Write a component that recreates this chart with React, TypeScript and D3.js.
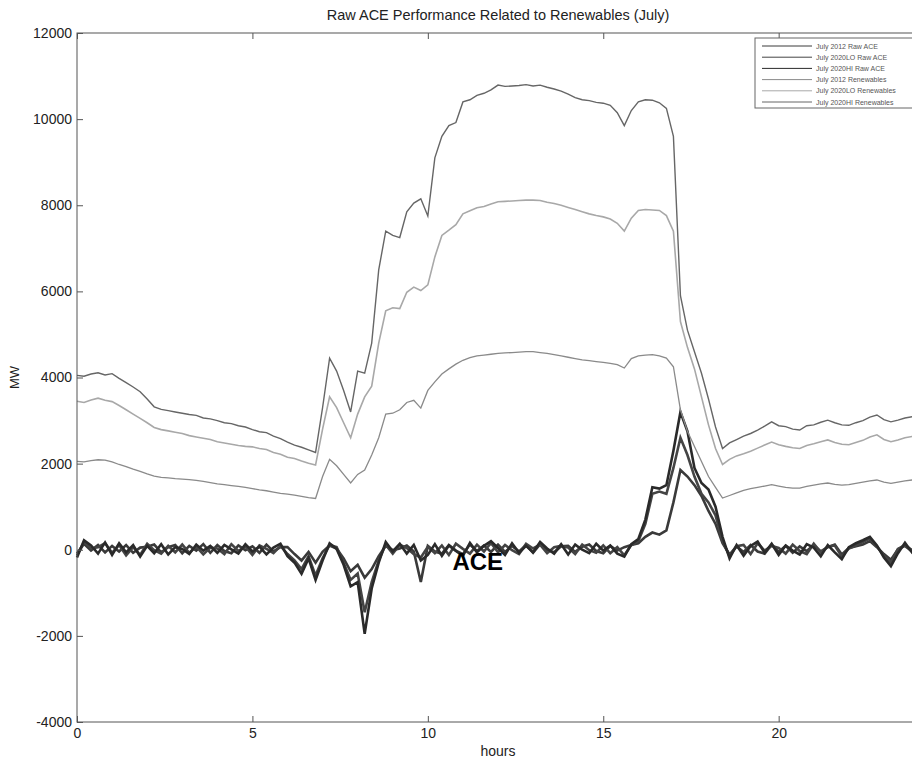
import { useEffect, useRef } from "react";
import * as d3 from "d3";

// x grid: one reading every 0.2 h
const hours: number[] = d3.range(0, 121).map((i) => i / 5);

const xTicks = [0, 5, 10, 15, 20];
const yTicks = [-4000, -2000, 0, 2000, 4000, 6000, 8000, 10000, 12000];

// renewables (MW)
const ren2012 = [
  2050, 2040, 2070, 2090, 2080, 2040, 1980, 1930, 1870, 1820,
  1760, 1710, 1680, 1670, 1650, 1640, 1630, 1610, 1590, 1560,
  1530, 1510, 1490, 1470, 1450, 1420, 1390, 1370, 1340, 1310,
  1290, 1270, 1240, 1210, 1190, 1700, 2100, 1950, 1750, 1550,
  1750, 1850, 2200, 2600, 3150, 3170, 3250, 3420, 3470, 3290,
  3700, 3900, 4080, 4200, 4310, 4400, 4460, 4500, 4520, 4540,
  4560, 4570, 4580, 4590, 4600, 4600, 4580, 4560, 4530, 4500,
  4470, 4440, 4410, 4390, 4370, 4350, 4330, 4300, 4220, 4440,
  4500, 4520, 4530, 4500, 4450, 4250, 3250, 2750, 2400, 2050,
  1700, 1450, 1200, 1260, 1320, 1380, 1420, 1450, 1480, 1510,
  1480, 1450, 1430, 1430, 1470, 1500, 1530, 1550, 1520, 1500,
  1510, 1540, 1570, 1600, 1620, 1570, 1540, 1570, 1600, 1620,
  1610,
];

const renLo = [
  3450, 3420, 3480, 3520, 3470, 3440, 3350, 3250, 3150, 3050,
  2950, 2840, 2790, 2760, 2730, 2700, 2650, 2620, 2590, 2560,
  2510, 2480, 2450, 2420, 2400, 2390, 2350, 2330, 2260, 2220,
  2150, 2120, 2060, 2010, 1970, 2800, 3550, 3300, 2950, 2600,
  3150, 3550, 3800, 4800, 5550, 5620, 5600, 5980, 6100, 6020,
  6150, 6800, 7300, 7420, 7550, 7800, 7870, 7940, 7970, 8030,
  8080, 8090, 8100, 8110, 8120, 8120, 8110, 8070, 8040, 8000,
  7950, 7900, 7850, 7800, 7760, 7730, 7680, 7580, 7400, 7700,
  7880, 7900, 7890, 7880, 7760, 7400, 5300, 4700, 4200, 3550,
  2900, 2350, 1980, 2100, 2180, 2230, 2290, 2360, 2430, 2500,
  2440, 2400, 2370, 2350, 2420, 2460, 2510, 2550, 2490, 2450,
  2440, 2490, 2540, 2620, 2670, 2560, 2510, 2550, 2600, 2630,
  2610,
];

const renHi = [
  4050, 4030, 4080, 4110, 4060, 4090, 3980, 3880, 3780, 3670,
  3500, 3320, 3260, 3230, 3200, 3170, 3140, 3120, 3060, 3040,
  3000, 2950, 2930, 2880, 2850, 2790, 2740, 2720, 2640, 2580,
  2500, 2430, 2380, 2320, 2260, 3300, 4450, 4150, 3700, 3200,
  4150, 4100, 4800, 6500, 7400, 7300, 7250, 7850, 8050, 8150,
  7750, 9100, 9600, 9850, 9920, 10400, 10450, 10550, 10600, 10680,
  10790, 10760, 10770, 10780, 10800, 10770, 10790, 10740, 10700, 10650,
  10580, 10500, 10450, 10430, 10390, 10370, 10320, 10150, 9850, 10200,
  10400, 10450, 10440, 10380, 10250, 9600, 5900, 5100, 4600, 4100,
  3500, 2850, 2350, 2480, 2560, 2640, 2700, 2780, 2870, 2970,
  2880, 2860, 2800, 2780, 2880, 2900, 2960, 3010, 2950, 2900,
  2890, 2950, 3000, 3080, 3130, 3020, 2970, 3010, 3060, 3090,
  3060,
];

// raw ACE (MW)
const ace2012 = [
  -90, 140, -20, 110, -60, 90, -40, 110, -70, 50,
  70, 120, -60, 60, 110, -80, 90, -20, 130, -70,
  110, -30, -80, 100, -10, 80, -70, 120, -40, 60,
  60, -100, -250, -50, -300, -50, 100, 30, -200, -500,
  -350, -650, -450, -150, 90, -10, 30, 100, -40, -750,
  90, -40, -90, 110, -20, -100, 120, -30, 100, -50,
  120, -50, 90, -40, 110, -70, 130, -10, -60, 80,
  90, -50, 70, 120, -30, -80, 90, -20, 60, 110,
  150, 300, 400, 350, 450, 1100, 1850, 1700, 1500, 1250,
  900, 600, 150, -110, 80, -50, 110, -40, -90, 120,
  -50, 90, -70, 80, -30, 110, -40, 60, 120, -110,
  40, 80, 120, 200, 60, -100, -230, 10, 90, -40,
  60,
];

const aceLo = [
  -130, 180, 30, 60, 150, -70, 110, -130, 60, -120,
  140, -10, -90, 90, -60, 120, -70, 70, -110, 50,
  30, -100, 130, -30, 80, -120, 100, 20, -80, 90,
  -100, -250, -450, -150, -600, -200, 110, 60, -300, -700,
  -550, -1450, -750, -250, 120, -90, 120, 40, -100, -180,
  70, -80, 100, -120, 140, 20, -90, 120, -40, 160,
  -60, 110, -10, -100, 140, 30, 120, -80, 60, 90,
  50, -100, 120, -10, -70, 100, -80, 60, -130, 110,
  200, 600, 1300, 1350, 1300, 1900, 2600, 2200, 1700, 1300,
  1100, 800, 200, -150, 80, 110, -100, 150, -20, 90,
  40, -90, 120, -30, -100, 140, -60, 70, 100, -160,
  30, 100, 180, 260, 80, -140, -300, 20, 110, -10,
  50,
];

const aceHi = [
  -180, 220, 100, -90, 170, -120, 150, -60, 110, -160,
  90, -80, 130, -110, 60, 20, -100, 120, -20, 90,
  -70, 110, 10, -90, 130, -40, 70, -110, 50, 140,
  -150, -300, -560, -200, -700, -250, 150, 20, -350, -850,
  -750, -1950, -900, -300, 180, -40, 140, -90, 110, -250,
  -120, 130, -140, 100, -30, -140, 160, -60, 90, 200,
  40, -120, 150, -70, 90, -60, 180, 30, -90, 130,
  -110, 120, 0, -80, 140, -20, 100, -90, -160, 130,
  250, 700, 1450, 1420, 1500, 2300, 3200, 2750, 1900, 1550,
  1400, 1000, 300, -200, 110, -140, 90, 190, -70, 140,
  -120, 100, -20, -110, 130, 50, -150, 110, -60, -220,
  60, 150, 220, 300, 100, -180, -380, -80, 160, -60,
  80,
];

const seriesNames = [
  "July 2012 Raw ACE",
  "July 2020LO Raw ACE",
  "July 2020HI Raw ACE",
  "July 2012 Renewables",
  "July 2020LO Renewables",
  "July 2020HI Renewables",
];

const FONT = "'Liberation Sans', Arial, sans-serif";

export default function App() {
  const svgRef = useRef<SVGSVGElement>(null);

  useEffect(() => {
    const svg = d3.select(svgRef.current);
    svg.selectAll("*").remove();

    const width = 912;
    const height = 761;
    const margin = { top: 33, left: 77, bottom: 722, right: 919 };

    const x = d3.scaleLinear().domain([0, 24]).range([margin.left, margin.right]);
    const y = d3.scaleLinear().domain([-4000, 12000]).range([margin.bottom, margin.top]);

    svg.append("rect").attr("width", width).attr("height", height).attr("fill", "#fff");

    const series = [
      { values: ace2012, color: "#3a3a3a", w: 2.6 },
      { values: aceLo, color: "#444", w: 2.6 },
      { values: aceHi, color: "#2a2a2a", w: 2.6 },
      { values: ren2012, color: "#8a8a8a", w: 1.3 },
      { values: renLo, color: "#a8a8a8", w: 1.6 },
      { values: renHi, color: "#666", w: 1.4 },
    ];

    const line = d3
      .line<number>()
      .x((_, i) => x(hours[i]))
      .y((d) => y(d));

    series.forEach((s) => {
      svg
        .append("path")
        .datum(s.values)
        .attr("fill", "none")
        .attr("stroke", s.color)
        .attr("stroke-width", s.w)
        .attr("stroke-linejoin", "miter")
        .attr("d", line);
    });

    // axes box
    const axisColor = "#555";
    svg
      .append("rect")
      .attr("x", margin.left)
      .attr("y", margin.top)
      .attr("width", margin.right - margin.left)
      .attr("height", margin.bottom - margin.top)
      .attr("fill", "none")
      .attr("stroke", axisColor)
      .attr("stroke-width", 1);

    const fmt = (d: d3.NumberValue) => String(d);

    const bottom = svg
      .append("g")
      .attr("transform", `translate(0,${margin.bottom})`)
      .call(
        d3.axisBottom(x).tickValues(xTicks).tickSizeInner(-6).tickSizeOuter(0).tickPadding(6).tickFormat(fmt)
      );
    const top = svg
      .append("g")
      .attr("transform", `translate(0,${margin.top})`)
      .call(d3.axisTop(x).tickValues(xTicks).tickSizeInner(-6).tickSizeOuter(0).tickFormat(() => ""));
    const left = svg
      .append("g")
      .attr("transform", `translate(${margin.left},0)`)
      .call(
        d3.axisLeft(y).tickValues(yTicks).tickSizeInner(-6).tickSizeOuter(0).tickPadding(5).tickFormat(fmt)
      );

    [bottom, top, left].forEach((g) => {
      g.select(".domain").remove();
      g.selectAll("line").attr("stroke", axisColor);
      g.selectAll("text")
        .attr("fill", "#222")
        .style("font-family", FONT)
        .style("font-size", "14px");
    });

    // titles
    svg
      .append("text")
      .attr("x", (margin.left + margin.right) / 2)
      .attr("y", 20)
      .attr("text-anchor", "middle")
      .style("font-family", FONT)
      .style("font-size", "14.5px")
      .attr("fill", "#222")
      .text("Raw ACE Performance Related to Renewables (July)");

    svg
      .append("text")
      .attr("x", (margin.left + margin.right) / 2)
      .attr("y", 756)
      .attr("text-anchor", "middle")
      .style("font-family", FONT)
      .style("font-size", "14px")
      .attr("fill", "#222")
      .text("hours");

    svg
      .append("text")
      .attr("transform", `translate(19,${(margin.top + margin.bottom) / 2}) rotate(-90)`)
      .attr("text-anchor", "middle")
      .style("font-family", FONT)
      .style("font-size", "13px")
      .attr("fill", "#222")
      .text("MW");

    // annotation
    svg
      .append("text")
      .attr("x", x(10.7))
      .attr("y", y(-470))
      .style("font-family", FONT)
      .style("font-size", "24px")
      .style("font-weight", "bold")
      .attr("fill", "#000")
      .text("ACE");

    // legend
    const lg = svg.append("g").attr("transform", "translate(755,38)");
    lg.append("rect")
      .attr("width", 160)
      .attr("height", 70)
      .attr("fill", "#fff")
      .attr("stroke", "#666")
      .attr("stroke-width", 1);
    seriesNames.forEach((name, i) => {
      const yy = 8 + i * 11.2;
      lg.append("line")
        .attr("x1", 7)
        .attr("x2", 57)
        .attr("y1", yy)
        .attr("y2", yy)
        .attr("stroke", series[i].color)
        .attr("stroke-width", 1);
      lg.append("text")
        .attr("x", 61)
        .attr("y", yy + 2.5)
        .style("font-family", FONT)
        .style("font-size", "7px")
        .attr("fill", "#555")
        .text(name);
    });
  }, []);

  return (
    <svg
      ref={svgRef}
      width={912}
      height={761}
      style={{ position: "absolute", left: 0, top: 0, display: "block" }}
    />
  );
}
